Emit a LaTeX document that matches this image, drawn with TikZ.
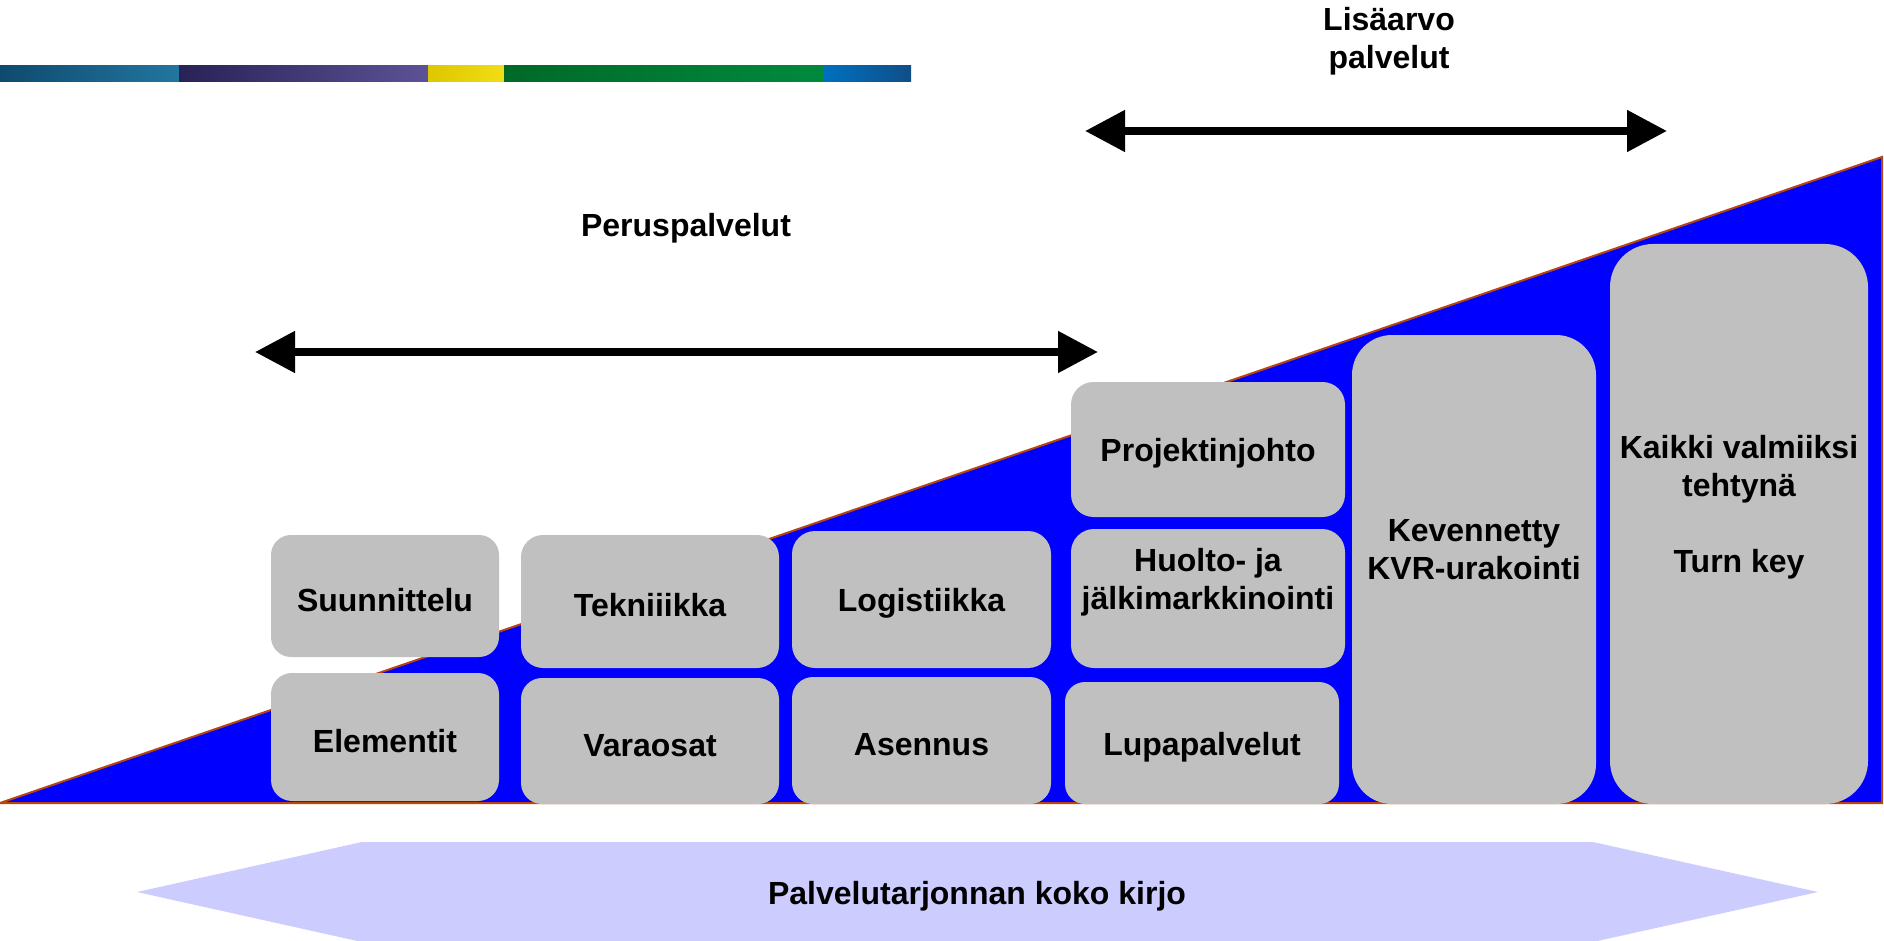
\documentclass[tikz,border=0pt]{standalone}
\usepackage{fontspec}
\setmainfont{Liberation Sans}
\usepackage{tikz}
\usetikzlibrary{arrows.meta}
\definecolor{boxgray}{RGB}{192,192,192}
\definecolor{edgebrown}{RGB}{184,68,16}
\definecolor{lavender}{RGB}{204,204,255}
\newcommand{\lnstrut}{\rule[-0.8pt]{0pt}{16.6pt}}
\tikzset{
  lbl/.style={font=\fontsize{16}{19}\selectfont\bfseries, align=center, inner sep=0pt,
    execute at begin node=\lnstrut, execute at end node=\lnstrut},
  pbox/.style={lbl, fill=boxgray},
  rangearrow/.style={line width=4pt, {Triangle[length=20pt,width=20pt]}-{Triangle[length=20pt,width=20pt]}}
}

\begin{document}
\begin{tikzpicture}[x=0.5pt, y=-0.5pt]
          \useasboundingbox (0, 0) rectangle (1884, 941);
          \shade[left color={rgb,255:red,14;green,74;blue,110}, right color={rgb,255:red,34;green,118;blue,160}] (0, 66) rectangle (179, 82);
          \shade[left color={rgb,255:red,40;green,34;blue,86}, right color={rgb,255:red,92;green,82;blue,150}] (179, 66) rectangle (428, 82);
          \shade[left color={rgb,255:red,222;green,198;blue,0}, right color={rgb,255:red,240;green,222;blue,20}] (428, 66) rectangle (504, 82);
          \shade[left color={rgb,255:red,0;green,105;blue,40}, right color={rgb,255:red,0;green,138;blue,62}] (504, 66) rectangle (824, 82);
          \shade[left color={rgb,255:red,0;green,112;blue,190}, right color={rgb,255:red,16;green,78;blue,136}] (824, 66) rectangle (911, 82);
          \filldraw[fill=blue, draw=edgebrown, line width=1pt] (0, 803) -- (1882, 803) -- (1882, 157) -- cycle;
          \node[pbox, minimum width=114pt, minimum height=61pt, rounded corners=10pt] at (385, 596) (suun) {Suunnittelu};
          \node[pbox, minimum width=114pt, minimum height=64pt, rounded corners=10.5pt] at (385, 737) (elem) {Elementit};
          \node[pbox, minimum width=129pt, minimum height=66.5pt, rounded corners=11pt] at (650, 601.5) (tekn) {Tekniiikka};
          \node[pbox, minimum width=129pt, minimum height=63pt, rounded corners=10.5pt] at (650, 741) (vara) {Varaosat};
          \node[pbox, minimum width=129.5pt, minimum height=68.5pt, rounded corners=11.5pt] at (921.5, 599.5) (logi) {Logistiikka};
          \node[pbox, minimum width=129.5pt, minimum height=63.5pt, rounded corners=10.5pt] at (921.5, 740.5) (asen) {Asennus};
          \node[pbox, minimum width=137pt, minimum height=67.5pt, rounded corners=11.25pt] at (1208, 449.5) (proj) {Projektinjohto};
          \node[pbox, minimum width=137pt, minimum height=69.5pt, rounded corners=11.5pt] at (1208, 598.5) (huol) {Huolto- ja \\ jälkimarkkinointi \\ ~};
          \node[pbox, minimum width=137pt, minimum height=61pt, rounded corners=10pt] at (1202, 743) (lupa) {Lupapalvelut};
          \node[pbox, minimum width=122pt, minimum height=234.5pt, rounded corners=20pt] at (1474, 569.5) (keve) {Kevennetty \\ KVR-urakointi \\ ~};
          \node[pbox, minimum width=129pt, minimum height=280pt, rounded corners=21.5pt] at (1739, 524) (kaik) {Kaikki valmiiksi \\ tehtynä \\ ~ \\ Turn key \\ ~};
          \node[lbl] at (686, 224) (perus) {Peruspalvelut};
          \node[lbl] at (1389, 41) (lisa) {Lisäarvo \\ palvelut};
          \coordinate (perusL) at (255, 352);
          \coordinate (perusR) at (1098, 352);
          \coordinate (lisaL) at (1085, 131);
          \coordinate (lisaR) at (1667, 131);
          \draw[black, rangearrow] (perusL) -- (perusR);
          \draw[black, rangearrow] (lisaL) -- (lisaR);
          \fill[lavender] (137, 892) -- (362, 842) -- (1593, 842) -- (1818, 892) -- (1593, 942) -- (362, 942) -- cycle;
          \node[lbl] at (977, 892) (kirjo) {Palvelutarjonnan koko kirjo};
        \end{tikzpicture}
\end{document}
